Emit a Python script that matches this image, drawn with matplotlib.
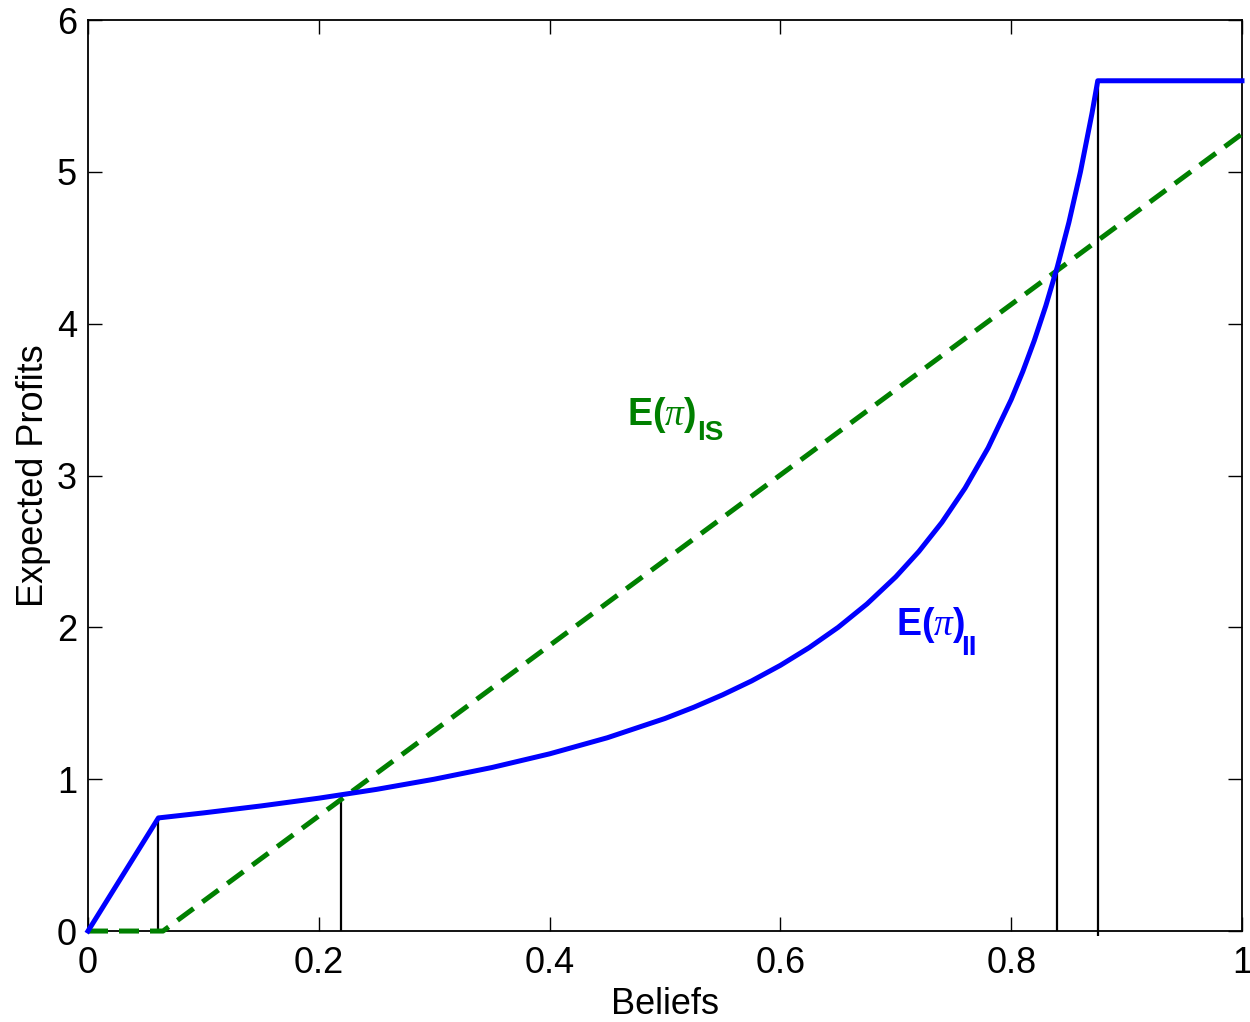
import matplotlib
matplotlib.use("Agg")
import matplotlib.pyplot as plt

plt.rcParams['font.family'] = ['Liberation Sans', 'DejaVu Sans']
plt.rcParams['mathtext.fontset'] = 'custom'
plt.rcParams['mathtext.rm'] = 'Liberation Sans'
plt.rcParams['mathtext.bf'] = 'Liberation Sans:bold'
plt.rcParams['mathtext.it'] = 'Liberation Serif:italic'

# Blue curve E(pi)_II
ii_x = [0.0, 0.061, 0.10, 0.15, 0.20, 0.25, 0.30, 0.35, 0.40, 0.45, 0.50,
        0.525, 0.55, 0.575, 0.60, 0.625, 0.65, 0.675, 0.70, 0.72, 0.74,
        0.76, 0.78, 0.80, 0.81, 0.82, 0.83, 0.84, 0.85, 0.86, 0.87,
        0.875, 1.0]
ii_y = [0.0, 0.745, 0.778, 0.824, 0.875, 0.933, 1.000, 1.077, 1.167, 1.273, 1.400,
        1.474, 1.556, 1.647, 1.750, 1.867, 2.000, 2.154, 2.333, 2.500, 2.692,
        2.917, 3.182, 3.500, 3.684, 3.889, 4.118, 4.375, 4.667, 5.000, 5.385,
        5.600, 5.600]

# Green dashed line E(pi)_IS
is_x = [0.0, 0.065, 1.0]
is_y = [0.0, 0.0, 5.25]

# Vertical black markers
vline_x = [0.0607, 0.219, 0.840, 0.875]
vline_top = [0.745, 0.89, 4.35, 5.60]
vline_bottom = [0.0, 0.0, 0.0, -0.03]

xticks = [0, 0.2, 0.4, 0.6, 0.8, 1]
xticklabels = ['0', '0.2', '0.4', '0.6', '0.8', '1']
yticks = [0, 1, 2, 3, 4, 5, 6]

fig = plt.figure(figsize=(12.5, 10.22), dpi=100)
ax = fig.add_axes([0.0704, 0.089, 0.9232, 0.8914])

ax.vlines(vline_x, vline_bottom, vline_top, colors='black', linewidth=1.6,
          zorder=2, clip_on=False)
ax.plot(is_x, is_y, color=(0, 0.5, 0), linewidth=3.6, linestyle=(0, (4, 2.2)),
        zorder=3, clip_on=False)
ax.plot(ii_x, ii_y, color=(0, 0, 1), linewidth=3.6, zorder=4, clip_on=False,
        solid_joinstyle='round')

ax.set_xlim(0, 1)
ax.set_ylim(0, 6)
ax.set_xticks(xticks)
ax.set_xticklabels(xticklabels)
ax.set_yticks(yticks)
ax.tick_params(direction='in', length=10, width=1, top=True, right=True,
               labelsize=26)
ax.tick_params(axis='x', pad=11)
ax.tick_params(axis='y', pad=8)
for s in ax.spines.values():
    s.set_linewidth(1.3)

ax.set_xlabel('Beliefs', fontsize=26, labelpad=4)
ax.set_ylabel('Expected Profits', fontsize=26, labelpad=4)

green = (0, 0.5, 0)
blue = (0, 0, 1)
ax.text(0.467, 3.333, r'$\mathbf{E(}\mathit{\pi}\mathbf{)}$',
        color=green, fontsize=27, ha='left', va='baseline')
ax.text(0.528, 3.235, 'IS', fontweight='bold',
        color=green, fontsize=20, ha='left', va='baseline')
ax.text(0.700, 1.95, r'$\mathbf{E(}\mathit{\pi}\mathbf{)}$',
        color=blue, fontsize=27, ha='left', va='baseline')
ax.text(0.757, 1.818, 'II', fontweight='bold',
        color=blue, fontsize=20, ha='left', va='baseline')

fig.savefig('out.png', dpi=100)
